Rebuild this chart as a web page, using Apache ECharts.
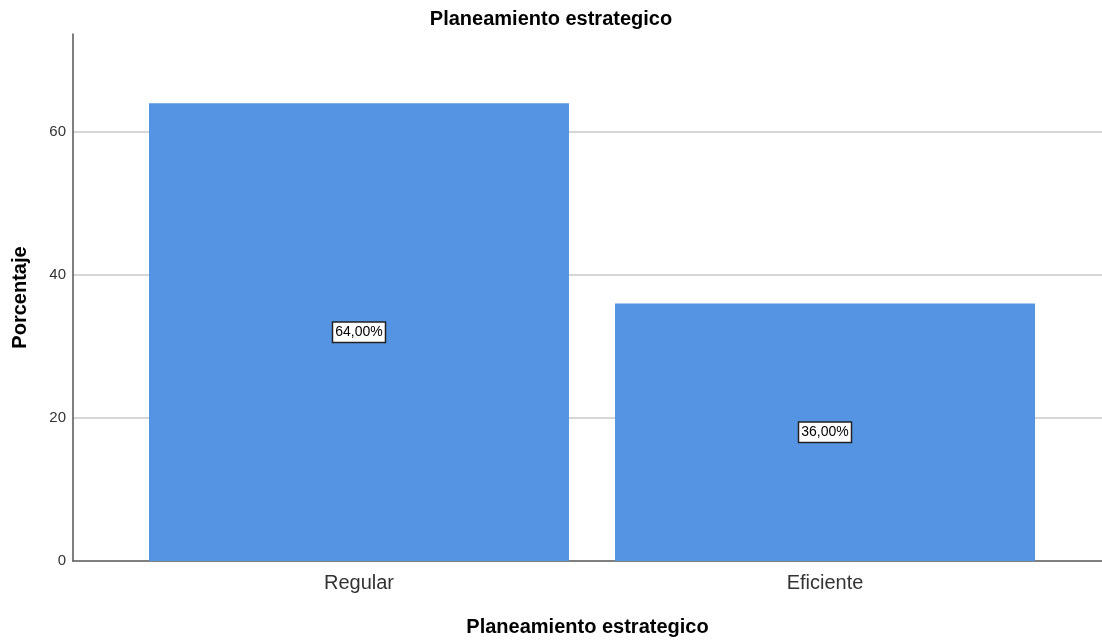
<!DOCTYPE html>
<html><head><meta charset="utf-8">
<script src="https://cdn.jsdelivr.net/npm/echarts@6/dist/echarts.min.js"></script>
<style>html,body{margin:0;padding:0;background:#fff}#c{width:1102px;height:640px}</style>
</head><body><div id="c"></div>
<script>
var categories = ['Regular', 'Eficiente'];
var values = [64, 36];
var yTicks = [0, 20, 40, 60];

var chart = echarts.init(document.getElementById('c'), null, {renderer: 'canvas'});
chart.setOption({
  animation: false,
  title: {text: 'Planeamiento estrategico', left: 'center', top: 4,
    textStyle: {fontFamily: 'Arial, Liberation Sans', fontSize: 20, fontWeight: 'bold', color: '#000'}},
  grid: {left: 73, right: 0, top: 34, bottom: 79, containLabel: false, outerBoundsMode: 'none'},
  xAxis: {
    type: 'value', min: -0.6137, max: 1.5944,
    name: 'Planeamiento estrategico', nameLocation: 'middle', nameGap: 56,
    nameTextStyle: {fontFamily: 'Arial, Liberation Sans', fontSize: 20, fontWeight: 'bold', color: '#000'},
    axisLine: {show: true, onZero: false, lineStyle: {color: '#555', width: 1.5}},
    axisTick: {show: false},
    splitLine: {show: false},
    axisLabel: {customValues: [0, 1], formatter: function (v) { return categories[Math.round(v)] || ''; },
      fontFamily: 'Arial, Liberation Sans', fontSize: 20, color: '#333', margin: 12}
  },
  yAxis: {
    type: 'value', min: 0, max: 73.7, interval: 20,
    name: 'Porcentaje', nameLocation: 'middle', nameGap: 43, nameRotate: 90,
    nameTextStyle: {fontFamily: 'Arial, Liberation Sans', fontSize: 20, fontWeight: 'bold', color: '#000'},
    axisLine: {show: true, onZero: false, lineStyle: {color: '#555', width: 1.5}},
    axisTick: {show: false},
    splitLine: {show: true, showMaxLine: false, showMinLine: false, lineStyle: {color: '#c8c8c8', width: 1.5}},
    axisLabel: {customValues: yTicks, fontFamily: 'Arial, Liberation Sans', fontSize: 15, color: '#333', margin: 7}
  },
  series: [{
    type: 'bar', barWidth: 420,
    data: values.map(function (v, i) { return [i, v]; }),
    itemStyle: {color: '#5494e3'},
    label: {show: true, position: 'inside',
      formatter: function (p) { return p.value[1].toFixed(2).replace('.', ',') + '%'; },
      fontFamily: 'Arial, Liberation Sans', fontSize: 14, color: '#000',
      backgroundColor: '#fff', borderColor: '#222', borderWidth: 1.5, padding: [3, 2, 2, 2]}
  }]
});
</script></body></html>
